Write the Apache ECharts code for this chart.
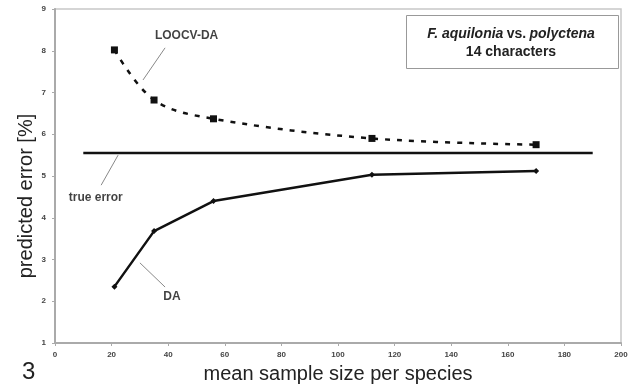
<!DOCTYPE html>
<html>
<head>
<meta charset="utf-8">
<script src="https://cdn.jsdelivr.net/npm/echarts@6/dist/echarts.min.js"></script>
<style>
  html, body { margin: 0; padding: 0; background: #fff; }
  #chart { width: 635px; height: 389px; }
</style>
</head>
<body>
<div id="chart"></div>
<script>
// sample sizes (x) and predicted error (%)
const sampleSize = [21, 35, 56, 112, 170];
const loocvValues = [8.02, 6.82, 6.37, 5.9, 5.75];
const daValues = [2.35, 3.68, 4.4, 5.03, 5.12];
const trueError = 5.55;
const trueErrorSpan = [10, 190];

const xTicks = [0, 20, 40, 60, 80, 100, 120, 140, 160, 180, 200];
const yTicks = [1, 2, 3, 4, 5, 6, 7, 8, 9];

// annotation labels and their leader lines, in data units
const labelNames = ['LOOCV-DA', 'true error', 'DA'];
const labelPos = [[46.5, 8.35], [14.4, 4.48], [41.3, 2.1]];
const leaderLines = [
    [[38.9, 8.07], [31.1, 7.3]],
    [[22.3, 5.5], [16.3, 4.78]],
    [[30, 2.92], [38.9, 2.34]],
];

const chart = echarts.init(document.getElementById('chart'));

const tickFont = {
    fontFamily: 'Liberation Sans',
    fontSize: 8,
    fontWeight: 'bold',
    color: '#444',
};

const option = {
    animation: false,
    grid: {
        left: 55,
        right: 14,
        top: 9,
        bottom: 46,
        show: true,
        borderColor: '#c8c8c8',
        borderWidth: 1.5,
    },
    xAxis: {
        type: 'value',
        min: xTicks[0],
        max: xTicks[xTicks.length - 1],
        interval: 20,
        name: 'mean sample size per species',
        nameLocation: 'middle',
        nameGap: 21,
        nameTextStyle: {
            fontFamily: 'Liberation Sans',
            fontSize: 20,
            color: '#222',
        },
        axisLine: { lineStyle: { color: '#aaa', width: 2 } },
        axisTick: { show: true, length: 3, lineStyle: { color: '#aaa' } },
        splitLine: { show: false },
        axisLabel: Object.assign({ margin: 8 }, tickFont),
    },
    yAxis: {
        type: 'value',
        min: yTicks[0],
        max: yTicks[yTicks.length - 1],
        interval: 1,
        axisLine: { show: true, lineStyle: { color: '#aaa', width: 2 } },
        axisTick: { show: true, length: 3, lineStyle: { color: '#aaa' } },
        splitLine: { show: false },
        axisLabel: Object.assign({ margin: 9 }, tickFont),
    },
    graphic: [
        {
            type: 'text',
            x: 26,
            y: 196,
            rotation: Math.PI / 2,
            style: {
                text: 'predicted error [%]',
                align: 'center',
                verticalAlign: 'middle',
                fontFamily: 'Liberation Sans',
                fontSize: 20,
                fill: '#222',
            },
        },
        {
            type: 'text',
            left: 22,
            top: 360,
            style: {
                text: '3',
                fontFamily: 'Liberation Sans',
                fontSize: 24,
                fill: '#222',
            },
        },
        {
            type: 'rect',
            left: 406,
            top: 15,
            shape: { width: 212, height: 53 },
            style: { fill: '#fff', stroke: '#999', lineWidth: 1 },
        },
        {
            type: 'text',
            x: 511,
            y: 43,
            style: {
                text: '{i|F. aquilonia} {b|vs.} {i|polyctena}\n{b|14 characters}',
                align: 'center',
                verticalAlign: 'middle',
                rich: {
                    i: { fontFamily: 'Liberation Sans', fontSize: 14, fontWeight: 'bold', fontStyle: 'italic', fill: '#222', lineHeight: 18, align: 'center' },
                    b: { fontFamily: 'Liberation Sans', fontSize: 14, fontWeight: 'bold', fill: '#222', lineHeight: 18, align: 'center' },
                },
            },
        },
    ],
    series: [
        {
            name: 'LOOCV-DA',
            type: 'line',
            data: sampleSize.map((x, i) => [x, loocvValues[i]]),
            smooth: 0.35,
            symbol: 'rect',
            symbolSize: 7,
            itemStyle: { color: '#111' },
            lineStyle: { color: '#111', width: 2.5, type: [5, 7] },
            z: 3,
        },
        {
            name: 'DA',
            type: 'line',
            data: sampleSize.map((x, i) => [x, daValues[i]]),
            symbol: 'diamond',
            symbolSize: 6,
            itemStyle: { color: '#111' },
            lineStyle: { color: '#111', width: 2.5 },
            z: 3,
        },
        {
            name: 'true error',
            type: 'line',
            data: trueErrorSpan.map(x => [x, trueError]),
            symbol: 'none',
            lineStyle: { color: '#111', width: 2.5 },
            z: 2,
        },
        {
            name: 'annotations',
            type: 'scatter',
            data: labelPos.map((p, i) => ({ value: p, name: labelNames[i] })),
            symbolSize: 0,
            label: {
                show: true,
                position: 'inside',
                formatter: p => p.name,
                fontFamily: 'Liberation Sans',
                fontSize: 12,
                fontWeight: 'bold',
                color: '#111',
            },
            markLine: {
                silent: true,
                symbol: 'none',
                lineStyle: { color: '#888', width: 1, type: 'solid' },
                label: { show: false },
                data: leaderLines.map(l => [{ coord: l[0] }, { coord: l[1] }]),
            },
            z: 4,
        },
    ],
};

chart.setOption(option);
</script>
</body>
</html>
